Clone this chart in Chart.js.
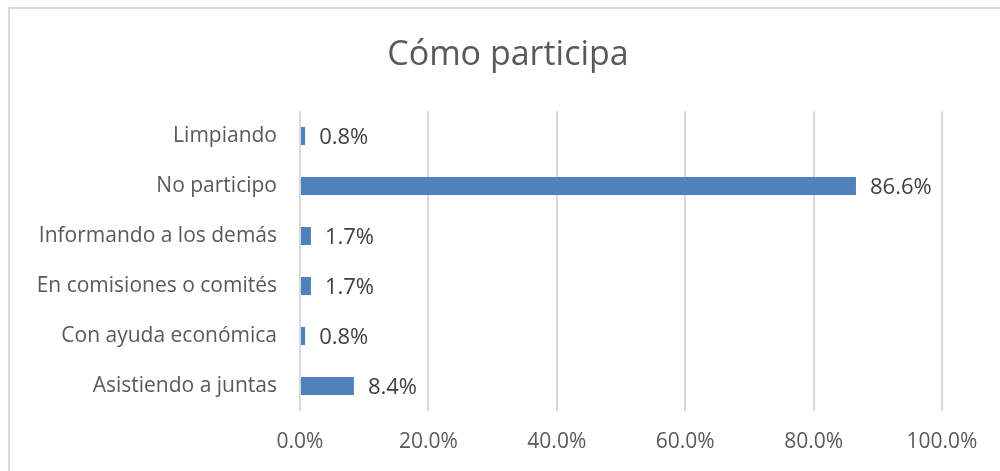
<!DOCTYPE html>
<html>
<head>
<meta charset="utf-8">
<script src="https://cdn.jsdelivr.net/npm/chart.js@4"></script>
<style>
  body { margin: 0; background: #fff; overflow: hidden; }
  #wrap { position: absolute; left: 0; top: 0; width: 1000px; height: 471px; }
</style>
</head>
<body>
<div id="wrap"><canvas id="barChart" width="1000" height="471"></canvas></div>
<script>
const chartTitle = 'Cómo participa';
const categories = [
  'Limpiando',
  'No participo',
  'Informando a los demás',
  'En comisiones o comités',
  'Con ayuda económica',
  'Asistiendo a juntas'
];
const percentValues = [0.8, 86.6, 1.7, 1.7, 0.8, 8.4];
const axisMin = 0;
const axisMax = 100;
const axisStep = 20;

const fontFamily = '"Open Sans", Lato, sans-serif';

// frame + title + value labels
const extrasPlugin = {
  id: 'extras',
  beforeDraw(chart) {
    const ctx = chart.ctx;
    ctx.save();
    ctx.strokeStyle = '#d9d9d9';
    ctx.lineWidth = 2;
    ctx.strokeRect(9, 8, 1100, 600);
    ctx.restore();
  },
  afterDraw(chart) {
    const ctx = chart.ctx;
    ctx.save();
    ctx.fillStyle = '#595959';
    ctx.font = '34px ' + fontFamily;
    ctx.textAlign = 'center';
    ctx.textBaseline = 'middle';
    ctx.fillText(chartTitle, 508, 55);

    ctx.fillStyle = '#404040';
    ctx.font = '22px ' + fontFamily;
    ctx.textAlign = 'left';
    const meta = chart.getDatasetMeta(0);
    meta.data.forEach(function(bar, i) {
      ctx.fillText(percentValues[i].toFixed(1) + '%', bar.x + 14, bar.y + 2);
    });
    ctx.restore();
  }
};

const barData = {
  labels: categories,
  datasets: [{
    data: percentValues,
    backgroundColor: '#4f81bd',
    borderWidth: 0,
    categoryPercentage: 1,
    barPercentage: 0.36
  }]
};

const barConfig = {
  type: 'bar',
  data: barData,
  options: {
    indexAxis: 'y',
    responsive: false,
    animation: false,
    layout: { padding: { left: 10, right: 58, top: 111, bottom: 0 } },
    plugins: {
      legend: { display: false },
      tooltip: { enabled: false },
      title: { display: false }
    },
    scales: {
      x: {
        min: axisMin,
        max: axisMax,
        ticks: {
          stepSize: axisStep,
          padding: 18,
          color: '#595959',
          font: { family: fontFamily, size: 21 },
          callback: function(v) { return v.toFixed(1) + '%'; }
        },
        grid: { color: '#d9d9d9', lineWidth: 2, drawTicks: false },
        border: { display: false },
        afterFit: function(scale) { scale.height = 60; }
      },
      y: {
        ticks: {
          padding: 23,
          color: '#595959',
          font: { family: fontFamily, size: 21 }
        },
        grid: { display: false, drawTicks: false },
        border: { display: false },
        afterFit: function(scale) { scale.width = 290; }
      }
    }
  },
  plugins: [extrasPlugin]
};

var bar_area = document.getElementById('barChart');
var myBarChart = new Chart(bar_area, barConfig);
</script>
</body>
</html>
